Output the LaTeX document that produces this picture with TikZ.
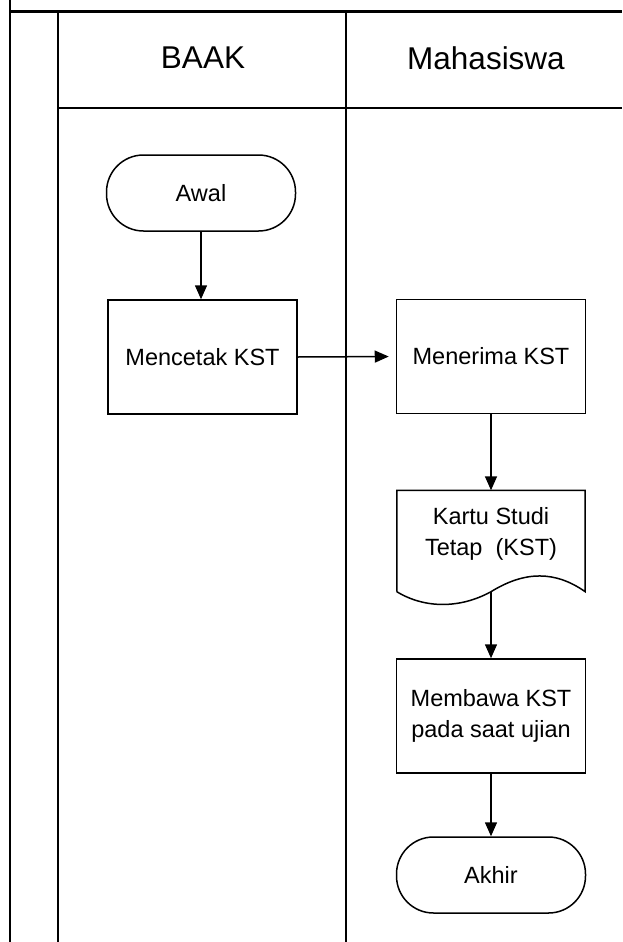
\documentclass[tikz,border=0pt]{standalone}
\usepackage{fontspec}
\setmainfont{Liberation Sans}
\usetikzlibrary{arrows.meta}
\begin{document}
\begin{tikzpicture}[x=1pt,y=-1pt,
  thin line/.style={line width=1.5pt},
  boxtext/.style={font=\fontsize{23.5}{31}\selectfont},
  proc/.style={draw,thin line,boxtext,minimum width=189pt,minimum height=114pt,inner sep=0pt,align=center},
  term/.style={draw,thin line,boxtext,rounded corners=37pt,minimum width=189pt,minimum height=76pt,inner sep=0pt},
  docbox/.style={minimum width=188pt,minimum height=101pt,inner sep=0pt},
  flow/.style={thin line,-{Triangle[length=14pt,width=12pt]}},
  header/.style={font=\fontsize{31.5}{36}\selectfont,inner sep=0pt}
]
\useasboundingbox (0,0) rectangle (622,942);

% swimlane frame
\draw[thin line] (10,0) -- (10,942);
\draw[line width=3pt] (9,11.5) -- (622,11.5);
\draw[thin line] (58,11.5) -- (58,942);
\draw[thin line] (346,11.5) -- (346,942);
\draw[thin line] (58,108) -- (622,108);

% lane headers
\node[header] (baak) at (203,58) {BAAK};
\node[header] (mhs) at (486,58) {Mahasiswa};

% BAAK lane
\node[term] (awal) at (201,193) {Awal};
\node[proc] (cetak) at (202.5,357) {Mencetak KST};

% Mahasiswa lane
\node[proc] (terima) at (491,356.5) {Menerima KST};
\node[docbox] (kst) at (491,541) {};
\draw[thin line] (kst.south west) -- (kst.north west) -- (kst.north east) -- (kst.south east)
  .. controls +(-30,-21) and +(34,-21) .. (kst.south)
  .. controls +(-31,17) and +(28,17) .. (kst.south west);
\node[boxtext,align=center,inner sep=0pt] (kstlabel) at (491,534) {Kartu Studi\\Tetap\ \ (KST)};
\node[proc] (bawa) at (491,716) {Membawa KST\\pada saat ujian};
\node[term] (akhir) at (491,875) {Akhir};

% connectors
\draw[flow] (awal.south) -- (awal.south |- cetak.north);
\draw[flow,shorten >=7pt] (cetak.east) -- (terima.west);
\draw[flow] (terima.south) -- (kst.north);
\draw[flow] (kst.south) -- (bawa.north);
\draw[flow] (bawa.south) -- (akhir.north);
\end{tikzpicture}
\end{document}
